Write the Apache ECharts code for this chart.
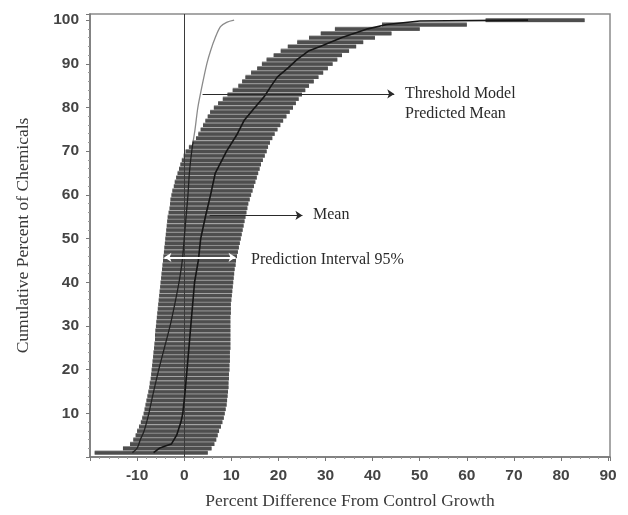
<!DOCTYPE html>
<html>
<head>
<meta charset="utf-8">
<script src="https://cdn.jsdelivr.net/npm/echarts@6/dist/echarts.min.js"></script>
<style>html,body{margin:0;padding:0;background:#fff;}#c{width:628px;height:515px;}</style>
</head>
<body>
<div id="c"></div>
<script>
// Cumulative percent rows of the 95% prediction interval band
var rowPct = [];
for (var k = 1; k <= 100; k++) rowPct.push(k);
var rowLo = [-19,-13,-11.5,-10.8,-10.3,-10,-9.6,-9.2,-8.9,-8.6,
  -8.4,-8.2,-8,-7.8,-7.6,-7.4,-7.3,-7.1,-7,-6.9,
  -6.8,-6.7,-6.6,-6.5,-6.4,-6.3,-6.2,-6.2,-6.1,-6,
  -5.9,-5.8,-5.7,-5.6,-5.5,-5.4,-5.3,-5.2,-5.1,-5,
  -4.9,-4.8,-4.7,-4.6,-4.5,-4.4,-4.3,-4.2,-4.1,-4,
  -3.9,-3.8,-3.7,-3.6,-3.5,-3.3,-3.1,-3,-2.9,-2.7,
  -2.5,-2.2,-2,-1.7,-1.4,-1.1,-0.8,-0.5,-0.1,0.3,
  1,1.8,2.5,3,3.5,4,4.5,5,5.5,6.3,
  7.2,8.2,9.2,10.3,11.5,12.3,13,14.2,15.5,16.5,
  17.5,19,20.5,22,24,26.5,29,32,42,64];
var rowHi = [5,5.8,6.4,6.8,7.1,7.4,7.8,8.1,8.4,8.6,
  8.8,9,9.1,9.2,9.3,9.4,9.4,9.5,9.5,9.6,
  9.6,9.7,9.7,9.7,9.8,9.8,9.8,9.8,9.8,9.8,
  9.8,9.8,9.9,9.9,9.9,10,10.1,10.2,10.3,10.4,
  10.5,10.6,10.7,10.9,11,11.2,11.4,11.6,11.8,12,
  12.2,12.4,12.6,12.8,13,13.2,13.4,13.6,13.9,14.2,
  14.5,14.8,15.1,15.4,15.7,16,16.3,16.7,17.1,17.5,
  17.8,18.2,18.7,19.2,19.8,20.4,21,21.7,22.4,23.1,
  23.7,24.3,25,25.7,26.5,27.5,28.5,29.5,30.5,31.5,
  32.5,33.5,35,36.5,38,40.5,44,50,60,85];

// Mean curve
var meanPct = [1,2,2.5,3,5,8,10,14,20,25,30,35,40,45,50,55,60,65,70,74,77,80,82.5,85,87,89,91,93,94,96,98,99,99.8,100];
var meanX = [-6.5,-5.3,-4,-2.7,-1.6,-0.7,-0.3,0.1,0.6,1,1.4,1.8,2.2,3,3.5,4.5,5.6,6.6,9,11.3,12.7,15,17,18.5,19.8,22,24,26.5,29,33.5,39,43,50,73];

// Threshold model predicted mean
var thrPct = [1,2,4,6,10,14,20,25,30,35,40,45,50,55,60,65,70,75,80,85,90,93,96,98.5,99.5,100];
var thrX = [-11,-10,-9.3,-8.5,-7.5,-6.7,-5.4,-4.2,-3,-2,-1.1,-0.4,0,0.4,0.8,1.1,1.6,2.3,2.9,3.8,4.8,5.6,6.6,7.7,9,10.6];

// Axis ticks
var xTicks = [-10,0,10,20,30,40,50,60,70,80,90];
var yTicks = [10,20,30,40,50,60,70,80,90,100];

// Annotation arrows (data coordinates)
var thresholdArrow = [[3.9, 83.1], [44.6, 83.1]];
var meanArrow = [[5.4, 55.3], [25.1, 55.3]];
var intervalArrow = [[-4.2, 45.7], [10.9, 45.7]];
var zeroLine = [[0, 0], [0, 101.4]];

var chart = echarts.init(document.getElementById('c'));
var bandData = rowPct.map(function (p, i) { return [p, rowLo[i], rowHi[i]]; });
var meanData = meanPct.map(function (p, i) { return [meanX[i], p]; });
var thrData = thrPct.map(function (p, i) { return [thrX[i], p]; });

var serif = '"Liberation Serif", "Times New Roman", serif';
var sans = '"Liberation Sans", Arial, sans-serif';

chart.setOption({
  animation: false,
  backgroundColor: '#fff',
  grid: { left: 90, right: 18, top: 14, bottom: 57, show: true, borderColor: '#8a8a8a', borderWidth: 1.5 },
  xAxis: {
    type: 'value', min: -20, max: 90.4, interval: 10,
    name: 'Percent Difference From Control Growth', nameLocation: 'middle', nameGap: 35,
    nameTextStyle: { fontFamily: serif, fontSize: 17.5, color: '#3a3a3a' },
    axisLine: { show: true, onZero: false, lineStyle: { color: '#777', width: 1.5 } },
    axisTick: { show: true, length: 4, lineStyle: { color: '#777' } },
    minorTick: { show: true, splitNumber: 5, length: 2, lineStyle: { color: '#999' } },
    splitLine: { show: false },
    axisLabel: {
      margin: 11, fontFamily: sans, fontSize: 15.5, fontWeight: 'bold', color: '#444',
      formatter: function (v) { return xTicks.indexOf(v) >= 0 ? String(v) : ''; }
    }
  },
  yAxis: {
    type: 'value', min: 0, max: 101.4, interval: 10,
    name: 'Cumulative Percent of Chemicals', nameLocation: 'middle', nameGap: 58,
    nameTextStyle: { fontFamily: serif, fontSize: 17.5, color: '#3a3a3a' },
    axisLine: { show: true, onZero: false, lineStyle: { color: '#777', width: 1.5 } },
    axisTick: { show: true, length: 4, lineStyle: { color: '#777' } },
    minorTick: { show: true, splitNumber: 5, length: 2, lineStyle: { color: '#999' } },
    splitLine: { show: false },
    axisLabel: {
      margin: 11, fontFamily: sans, fontSize: 15.5, fontWeight: 'bold', color: '#444',
      formatter: function (v) { return yTicks.indexOf(v) >= 0 ? String(v) : ''; }
    }
  },
  series: [
    {
      type: 'custom',
      encode: { x: [1, 2], y: 0 },
      data: bandData,
      z: 1,
      renderItem: function (params, api) {
        var p = api.value(0), lo = api.value(1), hi = api.value(2);
        var a = api.coord([lo, p + 0.5]);
        var b = api.coord([hi, p - 0.5]);
        var w = b[0] - a[0], h = b[1] - a[1];
        return {
          type: 'group',
          children: [
            { type: 'rect', shape: { x: a[0], y: a[1], width: w, height: h }, style: { fill: '#8e8e8e' } },
            { type: 'rect', shape: { x: a[0], y: a[1] + 0.9, width: w, height: h - 1.1 }, style: { fill: '#4e4e4e' } }
          ]
        };
      }
    },
    {
      type: 'line',
      data: meanData,
      showSymbol: false,
      z: 5,
      lineStyle: { color: '#161616', width: 1.6 }
    },
    {
      type: 'line',
      data: thrData,
      showSymbol: false,
      smooth: 0.3,
      z: 4,
      lineStyle: {
        width: 1.3,
        color: new echarts.graphic.LinearGradient(0, 0, 0, 1, [
          { offset: 0, color: '#8a8a8a' }, { offset: 0.28, color: '#8a8a8a' },
          { offset: 0.285, color: '#222222' }, { offset: 1, color: '#222222' }
        ])
      }
    },
    {
      type: 'lines', coordinateSystem: 'cartesian2d', z: 3, silent: true,
      symbol: 'none',
      lineStyle: { color: '#3a3a3a', width: 1, opacity: 1 },
      data: [{ coords: zeroLine }]
    },
    {
      type: 'lines', coordinateSystem: 'cartesian2d', z: 6, silent: true,
      symbol: ['none', 'arrow'], symbolSize: 7,
      lineStyle: { color: '#2a2a2a', width: 1.2, opacity: 1 },
      data: [{ coords: thresholdArrow }, { coords: meanArrow }]
    },
    {
      type: 'lines', coordinateSystem: 'cartesian2d', z: 7, silent: true,
      symbol: ['arrow', 'arrow'], symbolSize: 7,
      lineStyle: { color: '#ffffff', width: 2, opacity: 1 },
      data: [{ coords: intervalArrow }]
    }
  ],
  graphic: [
    { type: 'text', left: 405, top: 86, style: { text: 'Threshold Model', font: '16px ' + serif, fill: '#2a2a2a' } },
    { type: 'text', left: 405, top: 106, style: { text: 'Predicted Mean', font: '16px ' + serif, fill: '#2a2a2a' } },
    { type: 'text', left: 313, top: 207, style: { text: 'Mean', font: '16px ' + serif, fill: '#2a2a2a' } },
    { type: 'text', left: 251, top: 252, style: { text: 'Prediction Interval 95%', font: '16px ' + serif, fill: '#2a2a2a' } }
  ]
});
</script>
</body>
</html>
